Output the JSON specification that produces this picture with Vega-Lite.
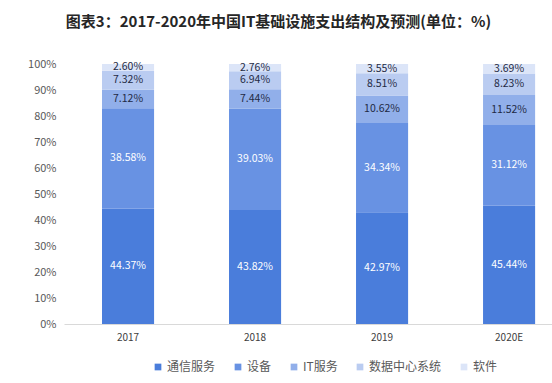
{
  "$schema": "https://vega.github.io/schema/vega-lite/v6.json",
  "width": 489,
  "height": 260,
  "padding": {"left": 27, "top": 15, "right": 0, "bottom": 5},
  "background": "white",
  "config": {"view": {"stroke": null}, "font": "Noto Sans CJK SC"},
  "title": {
    "text": "图表3：2017-2020年中国IT基础设施支出结构及预测(单位：%)",
    "fontSize": 15,
    "fontWeight": "bold",
    "color": "#262626",
    "anchor": "middle",
    "frame": "group",
    "dx": -30,
    "offset": 28
  },
  "data": {
    "values": [
      {"year": "2017", "cat": "通信服务", "o": 1, "v": 44.37},
      {"year": "2017", "cat": "设备", "o": 2, "v": 38.58},
      {"year": "2017", "cat": "IT服务", "o": 3, "v": 7.12},
      {"year": "2017", "cat": "数据中心系统", "o": 4, "v": 7.32},
      {"year": "2017", "cat": "软件", "o": 5, "v": 2.60},
      {"year": "2018", "cat": "通信服务", "o": 1, "v": 43.82},
      {"year": "2018", "cat": "设备", "o": 2, "v": 39.03},
      {"year": "2018", "cat": "IT服务", "o": 3, "v": 7.44},
      {"year": "2018", "cat": "数据中心系统", "o": 4, "v": 6.94},
      {"year": "2018", "cat": "软件", "o": 5, "v": 2.76},
      {"year": "2019", "cat": "通信服务", "o": 1, "v": 42.97},
      {"year": "2019", "cat": "设备", "o": 2, "v": 34.34},
      {"year": "2019", "cat": "IT服务", "o": 3, "v": 10.62},
      {"year": "2019", "cat": "数据中心系统", "o": 4, "v": 8.51},
      {"year": "2019", "cat": "软件", "o": 5, "v": 3.55},
      {"year": "2020E", "cat": "通信服务", "o": 1, "v": 45.44},
      {"year": "2020E", "cat": "设备", "o": 2, "v": 31.12},
      {"year": "2020E", "cat": "IT服务", "o": 3, "v": 11.52},
      {"year": "2020E", "cat": "数据中心系统", "o": 4, "v": 8.23},
      {"year": "2020E", "cat": "软件", "o": 5, "v": 3.69}
    ]
  },
  "transform": [
    {"stack": "v", "groupby": ["year"], "sort": [{"field": "o", "order": "ascending"}], "as": ["y0", "y1"]},
    {"calculate": "(datum.y0 + datum.y1) / 2", "as": "ym"},
    {"calculate": "format(datum.v, '.2f') + '%'", "as": "lbl"}
  ],
  "encoding": {
    "x": {
      "field": "year",
      "type": "nominal",
      "title": null,
      "scale": {"paddingInner": 0.59, "paddingOuter": 0.22, "align": 0.68},
      "axis": {"labelAngle": 0, "labelColor": "#404040", "labelFontSize": 10, "ticks": false, "domainColor": "#d9d9d9", "labelPadding": 8}
    }
  },
  "layer": [
    {
      "mark": {"type": "bar"},
      "encoding": {
        "y": {
          "field": "y0",
          "type": "quantitative",
          "title": null,
          "scale": {"domain": [0, 100], "nice": false},
          "axis": {"values": [0,10,20,30,40,50,60,70,80,90,100], "labelOverlap": false, "labelExpr": "datum.value + '%'", "grid": false, "domain": false, "ticks": false, "labelColor": "#595959", "labelFontSize": 11, "labelPadding": 8}
        },
        "y2": {"field": "y1"},
        "color": {
          "field": "cat",
          "type": "nominal",
          "sort": ["通信服务", "设备", "IT服务", "数据中心系统", "软件"],
          "scale": {"domain": ["通信服务", "设备", "IT服务", "数据中心系统", "软件"], "range": ["#4A7DDB", "#6892E3", "#91AFEA", "#BACCF1", "#DCE5F8"]},
          "legend": {"orient": "none", "legendX": 88, "legendY": 297, "direction": "horizontal", "title": null, "symbolType": "square", "symbolSize": 45, "labelFontSize": 12, "labelColor": "#595959", "columnPadding": 16, "labelOffset": 3}
        }
      }
    },
    {
      "mark": {"type": "text", "fontSize": 10.5},
      "encoding": {
        "y": {"field": "ym", "type": "quantitative", "axis": {"values": [0,10,20,30,40,50,60,70,80,90,100], "labelOverlap": false, "labelExpr": "datum.value + '%'", "grid": false, "domain": false, "ticks": false, "labelColor": "#595959", "labelFontSize": 11, "labelPadding": 8}},
        "text": {"field": "lbl"},
        "color": {
          "condition": {"test": "datum.o <= 2", "value": "#ffffff"},
          "value": "#1F2A44"
        }
      }
    }
  ]
}
